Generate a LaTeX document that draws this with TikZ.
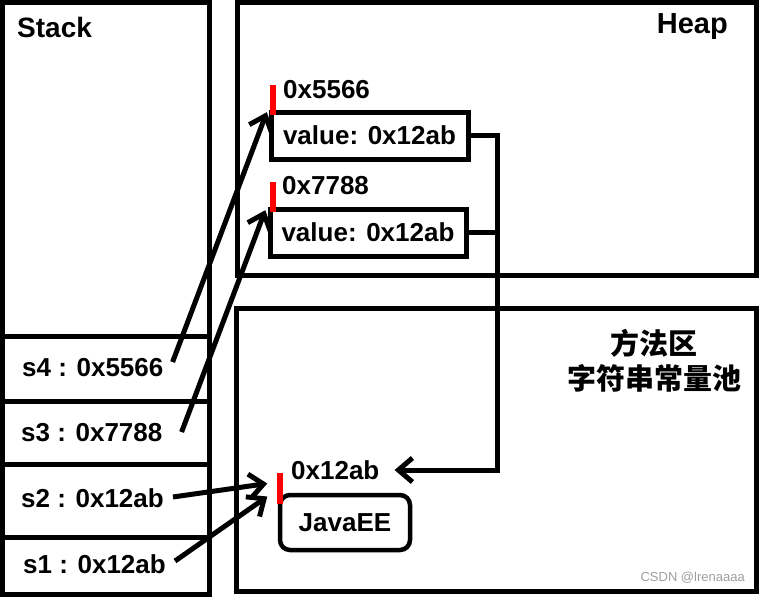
\documentclass[tikz,border=0pt]{standalone}
\usepackage{fontspec}
\setmainfont{Liberation Sans}
\newfontfamily\cjk{Noto Sans CJK SC}
\usetikzlibrary{arrows.meta,positioning}

\begin{document}
\begin{tikzpicture}[x=1pt,y=-1pt,area/.style={draw,line width=5pt},lbl/.style={inner sep=0pt,anchor=west,font=\bfseries\fontsize{26}{30}\selectfont},ttl/.style={inner sep=0pt,font=\bfseries\fontsize{28}{32}\selectfont},val/.style={draw,line width=5pt,minimum width=197pt,minimum height=47pt,inner sep=0pt,font=\bfseries\fontsize{26}{30}\selectfont},redbar/.style={fill=red,inner sep=0pt,minimum width=6pt,minimum height=30pt},arr/.style={line width=5pt,-{Straight Barb[length=14pt,width=24pt]}}]
\useasboundingbox (0,0) rectangle (761,598);
% memory areas
\draw[area] (2,2.5) rectangle (209,594);
\draw[area] (237,2.5) rectangle (756,275);
\draw[area] (236,308) rectangle (756,591);
\foreach \y in {336,401,464,537}
  \draw[area] (2,\y) -- (209,\y);
\node[ttl,anchor=west] (stk) at (17,27) {Stack};
\node[ttl,anchor=east,font=\bfseries\fontsize{29}{32}\selectfont] (hp) at (728,27) {Heap};
\node[font=\cjk\bfseries\fontsize{29}{35}\selectfont,align=center,inner sep=0pt] (pool) at (654,361) {方法区\\字符串常量池};
% objects
\node[val] (v1) at (369.5,135.5) {value: 0x12ab};
\node[val,minimum width=196pt] (v2) at (368,232.5) {value: 0x12ab};
\node[val,rounded corners=10pt,minimum width=130pt,minimum height=55pt,line width=4.5pt] (str) at (345,522.5) {JavaEE};
\node[lbl] (a1) at (283,90) {0x5566};
\node[lbl] (a2) at (282,186) {0x7788};
\node[lbl] (a3) at (291,470) {0x12ab};
\node[redbar] (r1) at (273,100) {};
\node[redbar] (r2) at (272.5,197) {};
\node[redbar,minimum height=31pt] (r3) at (279.5,488.5) {};
% stack variables
\node[lbl] (s4) at (22,368) {s4 : 0x5566};
\node[lbl] (s3) at (21,433) {s3 : 0x7788};
\node[lbl] (s2) at (21,498) {s2 : 0x12ab};
\node[lbl] (s1) at (23,564) {s1 : 0x12ab};
\draw[arr] ([xshift=9pt,yshift=6pt]s4.east) -- ([xshift=-3pt,yshift=3pt]r1.south west);
\draw[arr] ([xshift=19pt,yshift=1pt]s3.east) -- ([xshift=-4pt,yshift=2pt]r2.south west);
\draw[arr] ([xshift=9pt,yshift=1pt]s2.east) -- ([xshift=-9pt,yshift=5pt]r3.west);
\draw[arr] ([xshift=9pt,yshift=3pt]s1.east) -- ([xshift=-9pt,yshift=-8pt]r3.west);
% value references
\coordinate (bus) at (497,0);
\draw[line width=5pt] (v2.east) -- (v2.east -| bus);
\draw[arr] (v1.east) -| (bus |- a3.east) -- ([xshift=15pt]a3.east);
\node[anchor=east,inner sep=0pt,text=black!38,font=\fontsize{13}{15}\selectfont] (wm) at (745,578) {CSDN @lrenaaaa};
\end{tikzpicture}
\end{document}
